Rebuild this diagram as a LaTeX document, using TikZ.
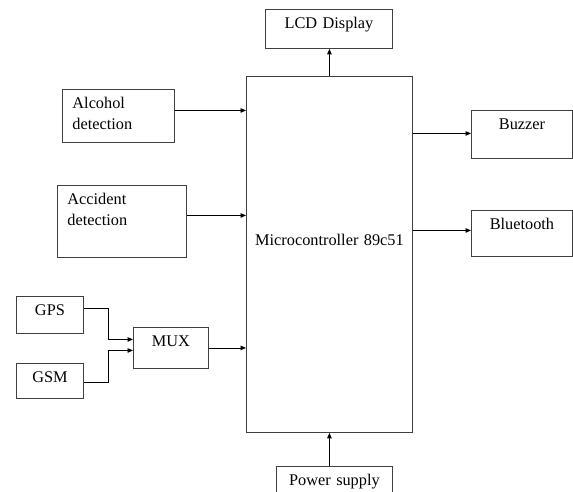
\documentclass[tikz,border=0pt]{standalone}
\usepackage{fontspec}
\setmainfont{Liberation Serif}
\usetikzlibrary{arrows.meta,positioning}

\begin{document}
\begin{tikzpicture}[
        x=1pt,
        y=-1pt,
        font=\fontsize{16.3}{21}\selectfont,
        blk/.style 2 args={draw=black!75, line width=0.9pt, anchor=north west,
            inner sep=0pt, minimum width=#1, text width=#1, minimum height=#2,
            text height=19pt, text depth=#2-19pt, align=center},
        blkl/.style 2 args={blk={#1}{#2}, align=left, inner xsep=10pt,
            text width=#1-20pt},
        arr/.style={-{Triangle[length=5.5pt,width=4.5pt]}, line width=0.9pt}
    ]
        \useasboundingbox (0,0) rectangle (573,492);

        % blocks
        \node[blk={166pt}{356pt}, text height=169pt, text depth=187pt] (mcu) at (246,76)
            {Microcontroller 89c51};
        \node[blk={127pt}{39pt}] (lcd) at (265,9) {LCD Display};
        \node[blkl={112pt}{53pt}] (alc) at (62,89) {Alcohol\\detection};
        \node[blkl={129pt}{72pt}] (acc) at (57,185) {Accident\\detection};
        \node[blk={67pt}{37pt}] (gps) at (16,296) {GPS};
        \node[blk={67pt}{35pt}] (gsm) at (16,363) {GSM};
        \node[blk={75pt}{41pt}] (mux) at (133,327) {MUX};
        \node[blk={101pt}{48pt}] (buz) at (471,110) {Buzzer};
        \node[blk={101pt}{46pt}] (blt) at (471,210) {Bluetooth};
        \node[blk={116pt}{30pt}] (pwr) at (276,466) {Power supply};

        % connectors
        \draw[arr] (mcu.north) -- (mcu.north |- lcd.south);
        \draw[arr] ([yshift=5.5pt]alc.east) -- ([yshift=5.5pt]alc.east -| mcu.west);
        \draw[arr] ([yshift=6pt]acc.east) -- ([yshift=6pt]acc.east -| mcu.west);
        \draw[arr] ([yshift=6.5pt]gps.east) -| ([xshift=-25pt,yshift=8.5pt]mux.west)
            -- ([yshift=8.5pt]mux.west);
        \draw[arr] ([yshift=-1.5pt]gsm.east) -| ([xshift=-25pt,yshift=-2.5pt]mux.west)
            -- ([yshift=-2.5pt]mux.west);
        \draw[arr] (mux.east) -- (mux.east -| mcu.west);
        \draw[arr] ([yshift=1pt]buz.west -| mcu.east) -- ([yshift=1pt]buz.west);
        \draw[arr] ([yshift=3pt]blt.west -| mcu.east) -- ([yshift=3pt]blt.west);
        \draw[arr] (pwr.north -| mcu.south) -- (mcu.south);
    \end{tikzpicture}
\end{document}
